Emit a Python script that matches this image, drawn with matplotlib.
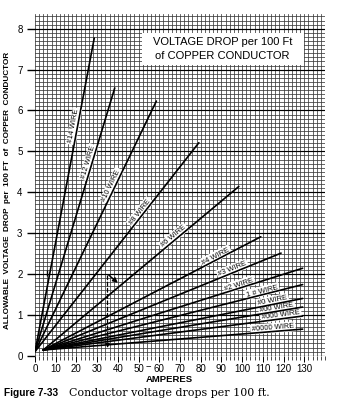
import numpy as np
import matplotlib
matplotlib.use("Agg")
import matplotlib.pyplot as plt
from matplotlib.patches import Rectangle

# wire lines: start point, end point (amperes, volts) and where the label sits
wire_labels = ["#14 WIRE", "#12 WIRE", "#10 WIRE", "#8 WIRE", "#6 WIRE", "#4 WIRE",
               "#3 WIRE", "#2 WIRE", "1 # WIRE", "#0 WIRE", "#00 WIRE", "#000 WIRE",
               "#0000 WIRE"]
start_amps = [0, 0, 0, 0, 4, 4, 4, 4, 4, 4, 4, 4, 4]
start_volts = [0.1, 0.1, 0.1, 0.1, 0.14, 0.14, 0.14, 0.14, 0.14, 0.14, 0.14, 0.14, 0.14]
end_amps = [28.6, 38.5, 58.6, 79.1, 98.4, 109, 118.8, 129.2, 129.2, 129.2, 129.2, 129.2, 129.2]
end_volts = [7.77, 6.55, 6.23, 5.21, 4.14, 2.91, 2.51, 2.14, 1.74, 1.40, 1.19, 0.97, 0.65]
label_amps = [20.5, 27.5, 38.5, 52, 68, 88, 96, 99, 110, 115, 117, 119, 115]

x_ticks = [0, 10, 20, 30, 40, 50, 60, 70, 80, 90, 100, 110, 120, 130]
y_ticks = [0, 1, 2, 3, 4, 5, 6, 7, 8]

fig = plt.figure(figsize=(3.37, 4.01), dpi=100)
ax = fig.add_axes([35 / 337, 1 - 355.7 / 401, 290 / 337, 341.7 / 401])
ax.set_xlim(0, 140)
ax.set_ylim(0, 8.36)

# fine graph-paper grid, a little heavier at each volt
for xv in np.arange(0, 140.1, 2):
    ax.axvline(xv, color="#3a3a3a", lw=0.55, zorder=1)
for yv in np.arange(0, 8.36, 0.1):
    ax.axhline(yv, color="#3a3a3a", lw=0.55, zorder=1)
for yv in y_ticks:
    ax.axhline(yv, color="black", lw=0.85, zorder=1.2)

for s in ax.spines.values():
    s.set_visible(False)

ax.set_xticks(x_ticks)
ax.set_xticklabels([str(t) for t in x_ticks], fontsize=7, family="Liberation Sans")
ax.set_xticks(np.arange(0, 140.1, 2), minor=True)
ax.tick_params(axis="x", which="major", length=4, width=0.7, pad=2)
ax.tick_params(axis="x", which="minor", length=3, width=0.5)
ax.set_yticks(y_ticks)
ax.set_yticklabels([str(t) for t in y_ticks], fontsize=7, family="Liberation Sans")
ax.tick_params(axis="y", which="major", length=6, width=1, pad=3)
ax.text(54.8, -0.26, "--", fontsize=7, family="Liberation Sans", ha="center", va="center")

# wire lines with labels sitting alongside
for name, xa, ya, xb, yb, la in zip(wire_labels, start_amps, start_volts,
                                    end_amps, end_volts, label_amps):
    ax.plot([xa, xb], [ya, yb], color="black", lw=1.2, zorder=4, solid_capstyle="round")
    slope = (yb - ya) / (xb - xa)
    ly = ya + slope * (la - xa)
    ang = np.degrees(np.arctan2(yb - ya, xb - xa))
    ax.text(la, ly, name, fontsize=5.4, family="Liberation Sans", rotation=ang,
            transform_rotates_text=True, rotation_mode="anchor",
            ha="center", va="bottom", zorder=3,
            bbox=dict(boxstyle="square,pad=0.2", fc="white", ec="none"))

# worked example: 35 A at 2 V
ax.annotate("", xy=(35, 0.12), xytext=(35, 2.02),
            arrowprops=dict(arrowstyle="-|>", lw=0.9, ls=(0, (3, 2)), color="black",
                            mutation_scale=6), zorder=5)
ax.annotate("", xy=(41, 1.74), xytext=(34.5, 2.02),
            arrowprops=dict(arrowstyle="-|>", lw=1.0, color="black", mutation_scale=7),
            zorder=5)
ax.plot([5.6], [2.03], marker="|", ms=4, color="black", zorder=5)

# title panel
ax.add_patch(Rectangle((51.5, 7.12), 78.5, 0.78, fc="white", ec="none", zorder=2))
ax.text(90.5, 7.51, "VOLTAGE DROP per 100 Ft\nof COPPER CONDUCTOR", fontsize=8,
        family="Liberation Sans", ha="center", va="center", linespacing=1.45, zorder=3)

ax.text(65, -0.47, "AMPERES", fontsize=6.8, family="Liberation Sans", weight="bold",
        ha="center", va="top")
fig.text(8 / 337, 1 - 190 / 401, "ALLOWABLE  VOLTAGE  DROP  per  100 FT  of  COPPER  CONDUCTOR",
         fontsize=5.9, family="Liberation Sans", weight="bold", rotation=90,
         ha="center", va="center")

fig.text(4 / 337, 1 - 393 / 401, "Figure 7-33", fontsize=7.3, family="Liberation Sans",
         weight="bold", va="center")
fig.text(69 / 337, 1 - 393 / 401, "Conductor voltage drops per 100 ft.", fontsize=7.9,
         family="DejaVu Serif", va="center")

fig.savefig("out.png", dpi=100, facecolor="white")
